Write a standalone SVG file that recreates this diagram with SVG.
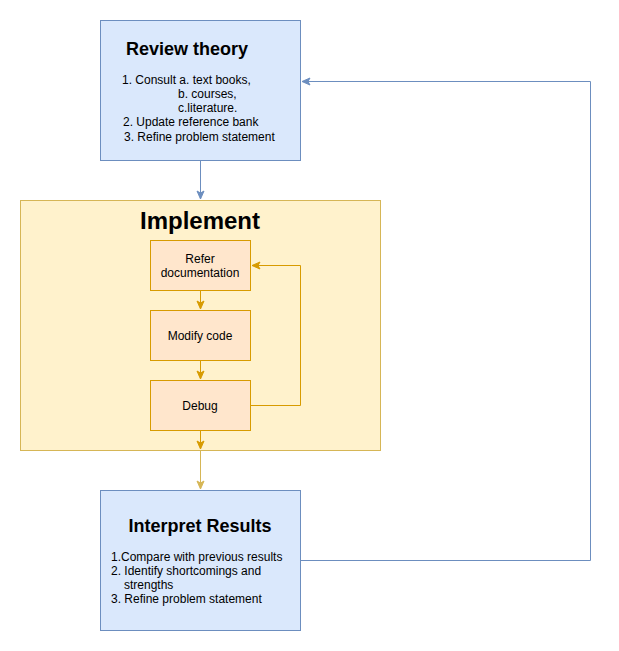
<svg xmlns="http://www.w3.org/2000/svg" width="619" height="651" viewBox="0 0 619 651">
<defs>
<style>
text{font-family:"Liberation Sans",Arial,Helvetica,sans-serif;fill:#000;}
.t{font-size:12px;}
.c{text-anchor:middle;}
.h{font-weight:bold;font-size:18px;}
.blue{fill:#dae8fc;stroke:#6c8ebf;stroke-width:1;}
.yel{fill:#fff2cc;stroke:#d6b656;stroke-width:1;}
.org{fill:#ffe6cc;stroke:#d79b00;stroke-width:1;}
.eb{fill:none;stroke:#6c8ebf;stroke-width:1;}
.eo{fill:none;stroke:#d79b00;stroke-width:1;}
.ey{fill:none;stroke:#d6b656;stroke-width:1;}
</style>
<marker id="ab" markerWidth="10" markerHeight="10" refX="9" refY="5" orient="auto" markerUnits="userSpaceOnUse"><path d="M1,1.5 L9,5 L1,8.5 L3,5 Z" fill="#6c8ebf" stroke="#6c8ebf"/></marker>
<marker id="ao" markerWidth="10" markerHeight="10" refX="9" refY="5" orient="auto" markerUnits="userSpaceOnUse"><path d="M1,1.5 L9,5 L1,8.5 L3,5 Z" fill="#d79b00" stroke="#d79b00"/></marker>
<marker id="ay" markerWidth="10" markerHeight="10" refX="9" refY="5" orient="auto" markerUnits="userSpaceOnUse"><path d="M1,1.5 L9,5 L1,8.5 L3,5 Z" fill="#d6b656" stroke="#d6b656"/></marker>
</defs>
<rect width="619" height="651" fill="#fff"/>
<g id="implement">
<rect class="yel" x="20.5" y="200.5" width="360" height="250"/>
<text class="c" x="200" y="229" style="font-weight:bold;font-size:24px">Implement</text>
</g>
<g id="review">
<rect class="blue" x="100.5" y="20.5" width="200" height="140"/>
<text class="h" x="187" y="55" text-anchor="middle">Review theory</text>
<text class="t" x="122" y="84">1. Consult a. text books,</text>
<text class="t" x="178" y="98">b. courses,</text>
<text class="t" x="178" y="112">c.literature.</text>
<text class="t" x="123" y="126">2. Update reference bank</text>
<text class="t" x="124" y="141">3. Refine problem statement</text>
</g>
<g id="refer">
<rect class="org" x="150.5" y="240.5" width="100" height="50"/>
<text class="t c" x="200" y="263">Refer</text>
<text class="t c" x="200" y="277">documentation</text>
</g>
<g id="modify">
<rect class="org" x="150.5" y="310.5" width="100" height="50"/>
<text class="t c" x="200" y="340">Modify code</text>
</g>
<g id="debug">
<rect class="org" x="150.5" y="380.5" width="100" height="50"/>
<text class="t c" x="200" y="410">Debug</text>
</g>
<g id="interpret">
<rect class="blue" x="100.5" y="490.5" width="200" height="140"/>
<text class="h c" x="200" y="532">Interpret Results</text>
<text class="t" x="111" y="561">1.Compare with previous results</text>
<text class="t" x="111" y="575">2. Identify shortcomings and</text>
<text class="t" x="124" y="589">strengths</text>
<text class="t" x="111" y="603">3. Refine problem statement</text>
</g>
<g id="connectors">
<path class="eb" d="M200.5,160.5 L200.5,199" marker-end="url(#ab)"/>
<path class="eo" d="M200.5,290.5 L200.5,309" marker-end="url(#ao)"/>
<path class="eo" d="M200.5,360.5 L200.5,379" marker-end="url(#ao)"/>
<path class="eo" d="M250.5,405.5 L300.5,405.5 L300.5,265.5 L252,265.5" marker-end="url(#ao)"/>
<path class="eo" d="M200.5,430.5 L200.5,449" marker-end="url(#ao)"/>
<path class="ey" d="M200.5,450.5 L200.5,489" marker-end="url(#ay)"/>
<path class="eb" d="M300.5,560.5 L590.5,560.5 L590.5,81.5 L302,81.5" marker-end="url(#ab)"/>
</g>
</svg>
